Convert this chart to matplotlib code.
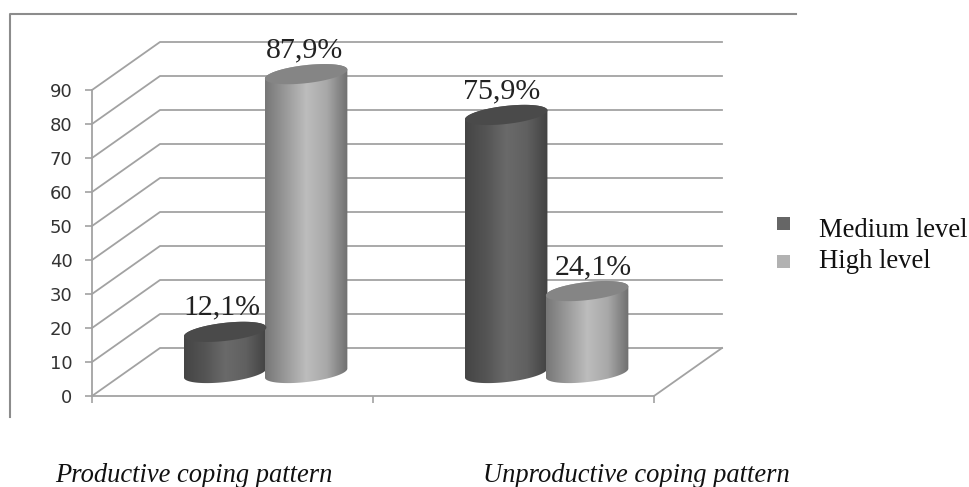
import numpy as np
import matplotlib
matplotlib.use('Agg')
from matplotlib import pyplot as plt
from matplotlib.colors import LinearSegmentedColormap
from matplotlib.lines import Line2D
from matplotlib.patches import PathPatch, Rectangle
from matplotlib.path import Path

categories = ['Productive coping pattern', 'Unproductive coping pattern']
series_names = ['Medium level', 'High level']
medium_values = [12.1, 75.9]
high_values = [87.9, 24.1]
value_labels = [['12,1%', '75,9%'], ['87,9%', '24,1%']]
y_ticks = [0, 10, 20, 30, 40, 50, 60, 70, 80, 90]

SERIF = 'Liberation Serif'
GRID = '#a2a2a2'
FRAME = '#8c8c8c'
W, H = 969, 487

# data units per pixel
SX = 2 / 562
SY = 90 / 306
DEPTH_X = 68 * SX
DEPTH_Y = 48 * SY
BAR_BASE = 23 * SY

# labels are not quite centred on their bars (pixels)
label_nudges = [[-3, -5], [-1.5, 6]]

dark_map = LinearSegmentedColormap.from_list('dark', ['#454545', '#545454', '#6a6a6a', '#606060', '#424242'])
light_map = LinearSegmentedColormap.from_list('light', ['#777777', '#9a9a9a', '#bdbdbd', '#a8a8a8', '#6f6f6f'])


def ellipse(cx, cy, a=41.5, b=9.0, tilt=6.5, start=0, stop=360):
    # ellipse points, sizes given in pixels, returned in data units
    t = np.radians(np.linspace(start, stop, 60))
    r = np.radians(tilt)
    px = a * np.cos(t) * np.cos(r) - b * np.sin(t) * np.sin(r)
    py = a * np.cos(t) * np.sin(r) + b * np.sin(t) * np.cos(r)
    return cx + px * SX, cy + py * SY


def cylinder(ax, cx, value, cmap, top_color):
    y0 = BAR_BASE
    y1 = BAR_BASE + value
    # body: upper half of the top cap, then lower half of the bottom cap
    xt, yt = ellipse(cx, y1, start=0, stop=180)
    xb, yb = ellipse(cx, y0, start=180, stop=360)
    verts = np.column_stack([np.r_[xt, xb], np.r_[yt, yb]])
    body = Path(np.vstack([verts, verts[0]]), closed=True)

    x_left, x_right = verts[:, 0].min(), verts[:, 0].max()
    im = ax.imshow(np.linspace(0, 1, 128).reshape(1, -1), cmap=cmap, aspect='auto',
                   extent=(x_left, x_right, y0 - 12 * SY, y1 + 12 * SY), zorder=3)
    im.set_clip_path(PathPatch(body, transform=ax.transData))
    im.set_clip_box(ax.figure.bbox)

    xc, yc = ellipse(cx, y1)
    ax.fill(xc, yc, color=top_color, zorder=4, clip_on=False, lw=0)


fig = plt.figure(figsize=(W / 100, H / 100), dpi=100)
ax = fig.add_axes([92 / W, (H - 396) / H, 562 / W, 306 / H])
ax.patch.set_alpha(0)

# outer frame, open on the right and at the bottom
fig.add_artist(Line2D([10 / W, 10 / W, 796 / W], [(H - 417) / H, (H - 14) / H, (H - 14) / H],
                      color=FRAME, lw=1.5))

# back wall, side wall and floor
for y in y_ticks:
    ax.plot([0, DEPTH_X, 2 + DEPTH_X], [y, y + DEPTH_Y, y + DEPTH_Y], color=GRID, lw=1.3, clip_on=False, zorder=1)
ax.plot([2, 2 + DEPTH_X], [0, DEPTH_Y], color=GRID, lw=1.3, clip_on=False, zorder=1)

# bars
medium_x = [i + 0.474 for i in range(len(categories))]
high_x = [i + 0.762 for i in range(len(categories))]
for x, v in zip(medium_x, medium_values):
    cylinder(ax, x, v, dark_map, '#4a4a4a')
for x, v in zip(high_x, high_values):
    cylinder(ax, x, v, light_map, '#858585')

# value labels
for xs, vals, labels, nudges in zip([medium_x, high_x], [medium_values, high_values], value_labels, label_nudges):
    for x, v, lab, n in zip(xs, vals, labels, nudges):
        ax.text(x + n * SX, BAR_BASE + v + 24 * SY, lab, family=SERIF, fontsize=21.5, color='#222222',
                ha='center', va='center', zorder=5)

ax.set_xlim(0, 2)
ax.set_ylim(0, 90)
ax.set_xticks([0, 1, 2])
ax.set_xticklabels([])
ax.set_yticks(y_ticks)
ax.tick_params(axis='y', length=5, width=1.2, color=GRID, labelsize=13, labelcolor='#333333', pad=9)
ax.tick_params(axis='x', length=5, width=1.2, color=GRID)
for side in ['top', 'right']:
    ax.spines[side].set_visible(False)
for side in ['left', 'bottom']:
    ax.spines[side].set_color(GRID)
    ax.spines[side].set_linewidth(1.3)

# category names sit well below the axis
for name, px in zip(categories, [194, 636]):
    fig.text(px / W, (H - 482) / H, name, family=SERIF, style='italic', fontsize=19.1,
             color='#111111', ha='center', va='baseline')

# legend: swatch spacing differs from the text spacing in the original
for name, color, sq_y, base_y in zip(series_names, ['#666666', '#b2b2b2'], [217, 255], [237, 268]):
    fig.add_artist(Rectangle((777 / W, (H - sq_y - 13) / H), 13 / W, 13 / H, color=color, lw=0,
                             transform=fig.transFigure))
    fig.text(819 / W, (H - base_y) / H, name, family=SERIF, fontsize=19.2, color='#111111',
             ha='left', va='baseline')

plt.savefig('out.png', dpi=100)
plt.close()
